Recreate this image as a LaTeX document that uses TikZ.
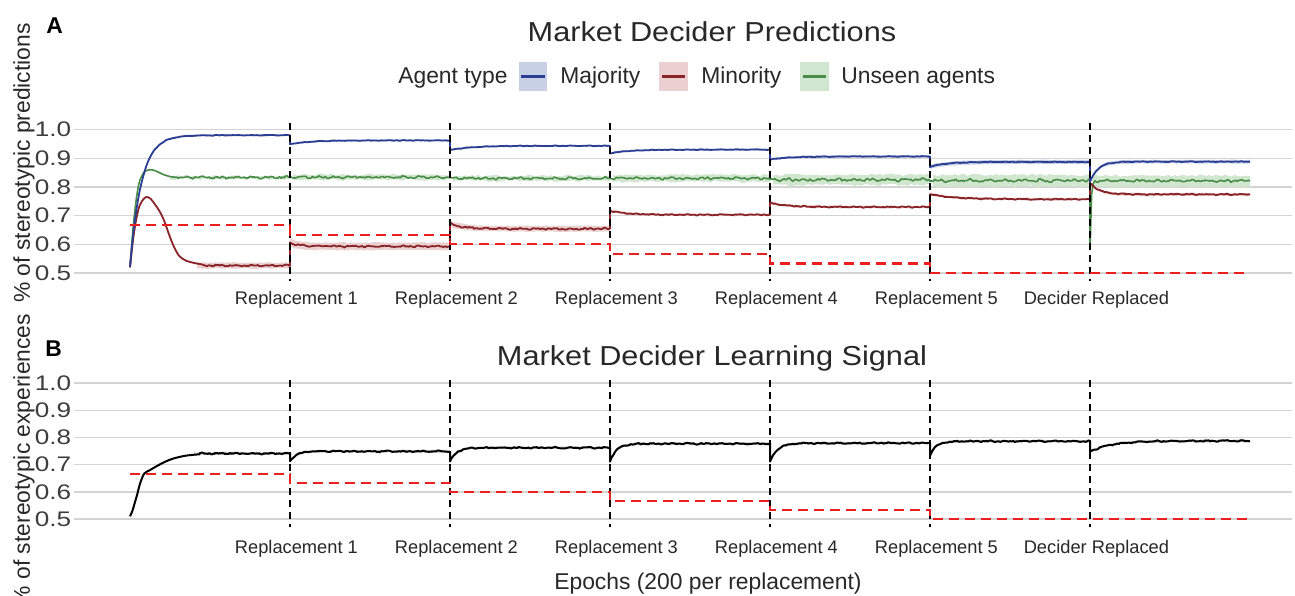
\documentclass[tikz,border=0pt]{standalone}
\usepackage{fontspec}
\setmainfont{Liberation Sans}
\newfontfamily\widesans{Liberation Sans}[FakeStretch=1.12]
\newfontfamily\ticksans{Liberation Sans}[FakeStretch=1.24]

\definecolor{majc}{RGB}{44,62,148}
\definecolor{minc}{RGB}{139,36,40}
\definecolor{unsc}{RGB}{72,140,72}
\definecolor{majband}{RGB}{200,208,230}
\definecolor{minband}{RGB}{234,208,208}
\definecolor{unsband}{RGB}{208,230,206}
\definecolor{blkband}{RGB}{210,210,210}
\definecolor{gridc}{RGB}{212,212,212}
\definecolor{refc}{RGB}{234,32,32}
\definecolor{txtc}{RGB}{40,40,40}

% one 200-epoch block of a learning curve:
% #1 first epoch, #2 plateau, #3 offset at block start, #4 time constant, #5 noise, #6 first local epoch
\newcommand\blk[6]{plot[domain=#6:200,samples=101]
  ({#1+\x},{#2+(#3)*exp(-\x/#4)+#5*(0.6*rand+0.5*sin(17*\x+#1)+0.4*sin(41*\x+2*#1))})}
% the same block, joined to the end of the path so far
\newcommand\blkto[6]{-- plot[domain=#6:200,samples=101]
  ({#1+\x},{#2+(#3)*exp(-\x/#4)+#5*(0.6*rand+0.5*sin(17*\x+#1)+0.4*sin(41*\x+2*#1))})}
% ribbon around a block: same arguments, #7 half width
\newcommand\bnd[7]{plot[domain=#6:200,samples=51]
  ({#1+\x},{#2+(#3)*exp(-\x/#4)+#7+#5*rand}) -- plot[domain=200:#6,samples=51]
  ({#1+\x},{#2+(#3)*exp(-\x/#4)-#7+#5*rand}) -- cycle}

\tikzset{
  gridln/.style={draw=gridc, line width=0.28mm},
  vdashed/.style={draw=black, line width=0.32mm, dash pattern=on 1.4mm off 1.0mm},
  refstep/.style={draw=refc, line width=0.42mm, dash pattern=on 2.0mm off 1.2mm},
  majline/.style={draw=majc, line width=0.36mm, line join=round},
  minline/.style={draw=minc, line width=0.36mm, line join=round},
  unsline/.style={draw=unsc, line width=0.32mm, line join=round},
  expline/.style={draw=black, line width=0.4mm, line join=round},
  keyline/.style={line width=0.45mm, shorten <=0.6mm, shorten >=0.6mm},
  ttl/.style={inner sep=0pt, text=txtc, font=\widesans\fontsize{15.6}{18}\selectfont},
  leg/.style={inner sep=0pt, text=txtc, font=\fontsize{13}{15}\selectfont},
  axttl/.style={inner sep=0pt, text=txtc, font=\fontsize{13}{15}\selectfont},
  ticklbl/.style={inner sep=0pt, text=txtc!90, font=\ticksans\fontsize{12}{14}\selectfont, anchor=east},
  replbl/.style={inner sep=0pt, text=txtc, font=\fontsize{10.4}{12}\selectfont, anchor=base},
  panlbl/.style={inner sep=0pt, text=black, font=\fontsize{13}{15}\selectfont\bfseries, anchor=base west},
  keybox/.style={minimum width=5.7mm, minimum height=5.8mm, inner sep=0pt}
}

\begin{document}
\begin{tikzpicture}[x=0.2mm, y=-0.2mm]
\pgfmathsetseed{7}
\useasboundingbox (0,0) rectangle (1295,595);
\fill[white] (0,0) rectangle (1295,595);

% ---------- headings, legend, axis titles ----------
\node[panlbl] (labA) at (46,33) {A};
\node[panlbl] (labB) at (45,356) {B};
\node[ttl, anchor=base] (titA) at (712,41) {Market Decider Predictions};
\node[ttl, anchor=base] (titB) at (712,365) {Market Decider Learning Signal};

\node[leg, anchor=base west] (legttl) at (398,83.5) {Agent type};
\node[keybox, fill=majband] (kmaj) at (533,76.5) {};
\draw[majline, keyline] (kmaj.west) -- (kmaj.east);
\node[leg, anchor=base west] (lmaj) at (560,83.5) {Majority};
\node[keybox, fill=minband] (kmin) at (673.5,76.5) {};
\draw[minline, keyline] (kmin.west) -- (kmin.east);
\node[leg, anchor=base west] (lmin) at (701,83.5) {Minority};
\node[keybox, fill=unsband] (kuns) at (814.5,76.5) {};
\draw[unsline, keyline] (kuns.west) -- (kuns.east);
\node[leg, anchor=base west] (luns) at (841,83.5) {Unseen agents};

\node[axttl, rotate=90] (ylabA) at (24,163) {\% of stereotypic predictions};
\node[axttl, rotate=90] (ylabB) at (24,460) {\% of stereotypic experiences};
\node[axttl, anchor=base] (xlab) at (708,589) {Epochs (200 per replacement)};

% ---------- panel A: predictions ----------
\begin{scope}[shift={(130,416.5)}, x=0.16mm, y=57.4mm]
  \foreach \v in {0.5,0.6,0.7,0.8,0.9,1.0} {
    \draw[gridln] (-70,\v) -- (1452,\v);
    \node[ticklbl] (tA\v) at (-73,\v) {\v};
  }
  % ribbons
  \fill[majband] \bnd{0}{0.98}{-0.46}{14}{0.0008}{30}{0.003};
  \foreach \s/\a/\b/\w in {200/0.962/-0.013/0.003, 400/0.943/-0.015/0.003, 600/0.930/-0.013/0.003,
                           800/0.906/-0.010/0.004, 1000/0.887/-0.017/0.007}
    \fill[majband] \bnd{\s}{\a}{\b}{25}{0.001}{0}{\w};
  \fill[majband] \bnd{1200}{0.888}{-0.070}{10}{0.001}{4}{0.006};
  \fill[minband] \bnd{0}{0.526}{0}{30}{0.002}{84}{0.010};
  \foreach \s/\a/\b/\t/\w in {200/0.593/0.013/12/0.013, 400/0.654/0.019/15/0.010, 600/0.703/0.014/20/0.004,
                              800/0.730/0.015/20/0.004, 1000/0.757/0.018/30/0.004, 1200/0.774/0.040/12/0.005}
    \fill[minband] \bnd{\s}{\a}{\b}{\t}{0.002}{0}{\w};
  \foreach \s/\a/\w/\f in {0/0.833/0.005/50, 200/0.834/0.009/4, 400/0.830/0.009/4, 600/0.830/0.012/4,
                           800/0.825/0.018/4, 1000/0.822/0.020/4, 1200/0.820/0.020/4}
    \fill[unsband] \bnd{\s}{\a}{0}{10}{0.004}{\f}{\w};

  % unseen agents
  \draw[unsline] plot[smooth] coordinates {(0,0.52) (4,0.66) (8,0.76) (12,0.82) (18,0.852) (25,0.86)
      (32,0.856) (40,0.845) (50,0.836) (60,0.833)}
    \blkto{0}{0.833}{0}{10}{0.004}{60}
    \blkto{200}{0.834}{0}{10}{0.004}{0}
    \blkto{400}{0.830}{0}{10}{0.004}{0}
    \blkto{600}{0.830}{0}{10}{0.004}{0}
    \blkto{800}{0.825}{0}{10}{0.005}{0}
    \blkto{1000}{0.822}{0}{10}{0.005}{0}
    \blkto{1200}{0.821}{-0.24}{1.2}{0.004}{0};
  % minority
  \draw[minline] plot[smooth] coordinates {(0,0.52) (4,0.62) (8,0.69) (12,0.735) (17,0.758) (21,0.765)
      (26,0.758) (31,0.74) (37,0.715) (43,0.68) (50,0.625) (56,0.585) (62,0.558) (70,0.543)
      (80,0.535) (90,0.53)}
    \blkto{0}{0.526}{0.004}{30}{0.0025}{90}
    \blkto{200}{0.593}{0.013}{12}{0.003}{0}
    \blkto{400}{0.654}{0.019}{15}{0.003}{0}
    \blkto{600}{0.703}{0.014}{20}{0.002}{0}
    \blkto{800}{0.730}{0.015}{20}{0.002}{0}
    \blkto{1000}{0.757}{0.018}{30}{0.002}{0}
    \blkto{1200}{0.774}{0.040}{12}{0.002}{0};
  % majority
  \draw[majline] \blk{0}{0.98}{-0.46}{14}{0.0012}{0}
    \blkto{200}{0.962}{-0.013}{25}{0.0012}{0}
    \blkto{400}{0.943}{-0.015}{25}{0.0012}{0}
    \blkto{600}{0.930}{-0.013}{25}{0.0012}{0}
    \blkto{800}{0.906}{-0.010}{25}{0.0012}{0}
    \blkto{1000}{0.887}{-0.017}{20}{0.0012}{0}
    \blkto{1200}{0.888}{-0.070}{10}{0.0012}{0};

  \foreach \k in {1,...,6}
    \draw[vdashed] (200*\k,1.023) -- (200*\k,0.472);
  \draw[refstep] (0,0.6667) -- (200,0.6667) -- (200,0.6333) -- (400,0.6333) -- (400,0.6)
    -- (600,0.6) -- (600,0.5667) -- (800,0.5667) -- (800,0.5333) -- (1000,0.5333)
    -- (1000,0.5) -- (1400,0.5);
  \foreach \k/\txt in {1/Replacement 1, 2/Replacement 2, 3/Replacement 3, 4/Replacement 4,
                       5/Replacement 5, 6/Decider Replaced}
    \node[replbl] (rA\k) at (200*\k+8,0.3895) {\txt};
\end{scope}

% ---------- panel B: learning signal ----------
\begin{scope}[shift={(130,655)}, x=0.16mm, y=54.4mm]
  \foreach \v in {0.5,0.6,0.7,0.8,0.9,1.0} {
    \draw[gridln] (-70,\v) -- (1452,\v);
    \node[ticklbl] (tB\v) at (-73,\v) {\v};
  }
  \fill[blkband] \bnd{0}{0.741}{-0.003}{40}{0.002}{80}{0.004};
  \foreach \s/\a/\b/\t in {200/0.749/-0.037/8, 400/0.762/-0.052/8, 600/0.777/-0.065/8,
                           800/0.779/-0.070/9, 1000/0.786/-0.050/8, 1200/0.787/-0.040/25}
    \fill[blkband] \bnd{\s}{\a}{\b}{\t}{0.002}{0}{0.004};
  \draw[expline] plot[smooth] coordinates {(0,0.51) (3,0.53) (6,0.56) (9,0.59) (12,0.625) (15,0.65)
      (18,0.668) (25,0.68) (35,0.697) (45,0.712) (55,0.723) (70,0.733) (87,0.738)}
    \blkto{0}{0.741}{-0.003}{40}{0.0025}{87}
    \blkto{200}{0.749}{-0.037}{8}{0.0025}{0}
    \blkto{400}{0.762}{-0.052}{8}{0.0025}{0}
    \blkto{600}{0.777}{-0.065}{8}{0.0025}{0}
    \blkto{800}{0.779}{-0.070}{9}{0.0025}{0}
    \blkto{1000}{0.786}{-0.050}{8}{0.0025}{0}
    \blkto{1200}{0.787}{-0.040}{25}{0.0025}{0};

  \foreach \k in {1,...,6}
    \draw[vdashed] (200*\k,1.011) -- (200*\k,0.47);
  \draw[refstep] (0,0.6667) -- (200,0.6667) -- (200,0.6333) -- (400,0.6333) -- (400,0.6)
    -- (600,0.6) -- (600,0.5667) -- (800,0.5667) -- (800,0.5333) -- (1000,0.5333)
    -- (1000,0.5) -- (1400,0.5);
  \foreach \k/\txt in {1/Replacement 1, 2/Replacement 2, 3/Replacement 3, 4/Replacement 4,
                       5/Replacement 5, 6/Decider Replaced}
    \node[replbl] (rB\k) at (200*\k+8,0.3732) {\txt};
\end{scope}
\end{tikzpicture}
\end{document}
